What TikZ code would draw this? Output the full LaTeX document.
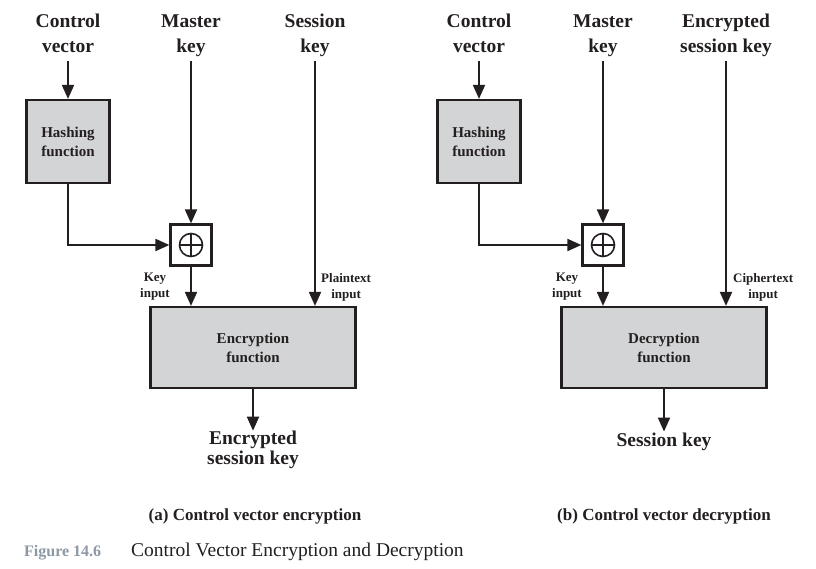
\documentclass[tikz,border=0pt]{standalone}
\usepackage{fontspec}
\setmainfont{Liberation Serif}
\usetikzlibrary{arrows.meta,positioning}
\definecolor{ink}{RGB}{35,31,32}
\definecolor{boxgray}{RGB}{211,212,214}
\definecolor{figgray}{RGB}{140,152,164}

\begin{document}
\begin{tikzpicture}[x=1pt,y=-1pt,
  big/.style={font=\fontsize{19.5}{25}\selectfont\bfseries, text=ink, align=center, inner sep=0pt,
    execute at begin node=\strut, execute at end node=\strut},
  outlbl/.style={big, font=\fontsize{19.5}{20.5}\selectfont\bfseries},
  small/.style={font=\fontsize{13}{16}\selectfont\bfseries, text=ink, align=center, inner sep=0pt},
  func/.style={draw=ink, line width=2.2pt, fill=boxgray, text=ink, font=\fontsize{15}{19}\selectfont\bfseries, align=center, inner sep=0pt},
  xorbox/.style={draw=ink, line width=2.2pt, fill=white, minimum size=41pt, inner sep=0pt,
    path picture={\draw[ink, line width=1.6pt] (path picture bounding box.center) circle[radius=11.5pt]
      ([xshift=-11.5pt]path picture bounding box.center) -- ([xshift=11.5pt]path picture bounding box.center)
      ([yshift=-11.5pt]path picture bounding box.center) -- ([yshift=11.5pt]path picture bounding box.center);}},
  arr/.style={draw=ink, line width=1.9pt, -{Triangle[length=14pt,width=12pt]}},
]
\useasboundingbox (0,0) rectangle (816,569);

% (a) encryption
\node[big] (cva) at (68,37) {Control\\vector};
\node[big] (mka) at (191,37) {Master\\key};
\node[big] (ska) at (315,37) {Session\\key};
\node[func, minimum width=83pt, minimum height=83pt] (hasha) at (68,141.5) {Hashing\\function};
\node[xorbox] (xora) at (191,245) {};
\node[func, minimum width=205pt, minimum height=81pt] (enca) at (253,347.5) {Encryption\\function};
\node[small, anchor=east] (kia) at (170,287) {Key\\input};
\node[small, anchor=west] (pia) at (321,287) {Plaintext\\input};
\node[outlbl] (outa) at (253,451) {Encrypted\\session key};

\draw[arr] ([yshift=-1pt]cva.south) -- (hasha.north);
\draw[arr] ([yshift=-1pt]mka.south) -- (xora.north);
\draw[arr] ([yshift=-1pt]ska.south) -- (ska.south |- enca.north);
\draw[arr] (hasha.south) |- (xora.west);
\draw[arr] (xora.south) -- (xora.south |- enca.north);
\draw[arr] (enca.south) -- (outa.north);

% (b) decryption
\begin{scope}[xshift=412pt]
\node[big] (cvb) at (67,37) {Control\\vector};
\node[big] (mkb) at (191,37) {Master\\key};
\node[big] (eskb) at (314,37) {Encrypted\\session key};
\node[func, minimum width=83pt, minimum height=83pt] (hashb) at (67,141.5) {Hashing\\function};
\node[xorbox] (xorb) at (191,245) {};
\node[func, minimum width=205pt, minimum height=81pt] (decb) at (252,347.5) {Decryption\\function};
\node[small, anchor=east] (kib) at (170,287) {Key\\input};
\node[small, anchor=west] (cib) at (321,287) {Ciphertext\\input};
\node[outlbl] (outb) at (252,442) {Session key};
\end{scope}

\draw[arr] ([yshift=-1pt]cvb.south) -- (hashb.north);
\draw[arr] ([yshift=-1pt]mkb.south) -- (xorb.north);
\draw[arr] ([yshift=-1pt]eskb.south) -- (eskb.south |- decb.north);
\draw[arr] (hashb.south) |- (xorb.west);
\draw[arr] (xorb.south) -- (xorb.south |- decb.north);
\draw[arr] (decb.south) -- (outb.north);

% captions
\node[font=\fontsize{17}{20}\selectfont\bfseries, text=ink] (capa) at (255,516) {(a) Control vector encryption};
\node[font=\fontsize{17}{20}\selectfont\bfseries, text=ink] (capb) at (664,516) {(b) Control vector decryption};
\node[anchor=base west, inner sep=0pt, font=\fontsize{16}{19}\selectfont\bfseries, text=figgray] (fignum) at (24,556) {Figure 14.6};
\node[anchor=base west, inner sep=0pt, font=\fontsize{19.5}{20}\selectfont, text=ink] (figtitle) at (131,556) {Control Vector Encryption and Decryption};
\end{tikzpicture}
\end{document}
